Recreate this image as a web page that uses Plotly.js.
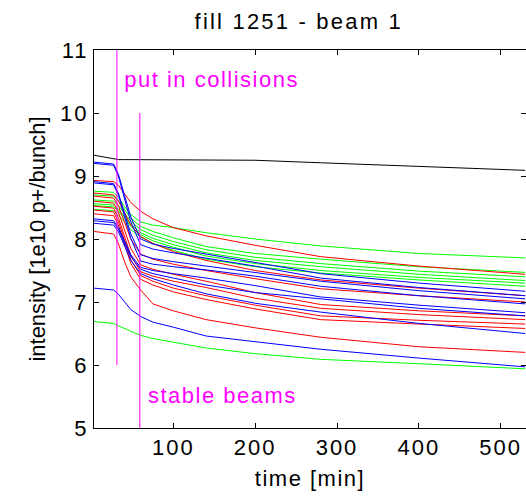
<!DOCTYPE html>
<html>
<head>
<meta charset="utf-8">
<script src="https://cdn.plot.ly/plotly-3.0.1.min.js"></script>
<style>
html,body{margin:0;padding:0;background:#fff;}
#chart .annotation-text, #chart .xtitle { letter-spacing: 1.5px !important; }
#chart .gtitle { letter-spacing: 2.2px !important; }
#chart .xtick text, #chart .ytick text { letter-spacing: 2px !important; }
</style>
</head>
<body>
<div id="chart" style="width:526px;height:499px;"></div>
<script>
// time samples [min]
const time = [3, 27, 33, 40, 48, 60, 75, 100, 140, 200, 280, 400, 530];

// bunch intensities [1e10 p+/bunch]
const black1 = [9.33, 9.27, 9.26, 9.26, 9.26, 9.26, 9.26, 9.26, 9.26, 9.25, 9.21, 9.15, 9.09];

const green1 = [8.76, 8.74, 8.66, 8.52, 8.39, 8.27, 8.22, 8.18, 8.10, 8.00, 7.89, 7.77, 7.70];
const green2 = [8.70, 8.68, 8.60, 8.47, 8.33, 8.20, 8.12, 8.02, 7.88, 7.77, 7.68, 7.56, 7.47];
const green3 = [8.62, 8.60, 8.53, 8.41, 8.28, 8.15, 8.06, 7.96, 7.83, 7.71, 7.61, 7.49, 7.40];
const green4 = [8.56, 8.54, 8.47, 8.36, 8.23, 8.10, 8.01, 7.91, 7.78, 7.66, 7.56, 7.44, 7.34];
const green5 = [8.53, 8.51, 8.44, 8.32, 8.20, 8.07, 7.97, 7.87, 7.73, 7.61, 7.50, 7.39, 7.30];
const green6 = [8.47, 8.45, 8.38, 8.27, 8.15, 8.03, 7.93, 7.82, 7.68, 7.56, 7.46, 7.35, 7.25];
const green7 = [6.69, 6.66, 6.62, 6.58, 6.53, 6.47, 6.42, 6.36, 6.27, 6.18, 6.09, 6.02, 5.94];

const red1 = [8.93, 8.91, 8.85, 8.72, 8.58, 8.44, 8.32, 8.18, 8.05, 7.90, 7.72, 7.57, 7.44];
const red2 = [8.73, 8.70, 8.60, 8.42, 8.22, 8.04, 7.93, 7.80, 7.66, 7.50, 7.35, 7.22, 7.10];
const red3 = [8.68, 8.65, 8.52, 8.28, 8.00, 7.76, 7.68, 7.60, 7.50, 7.37, 7.21, 7.10, 7.00];
const red4 = [8.60, 8.57, 8.42, 8.15, 7.85, 7.59, 7.52, 7.44, 7.33, 7.15, 6.96, 6.86, 6.78];
const red5 = [8.52, 8.49, 8.33, 8.05, 7.74, 7.48, 7.41, 7.33, 7.23, 7.06, 6.90, 6.80, 6.72];
const red6 = [8.46, 8.43, 8.27, 7.98, 7.67, 7.42, 7.33, 7.22, 7.10, 6.95, 6.78, 6.71, 6.65];
const red7 = [8.40, 8.37, 8.21, 7.92, 7.61, 7.36, 7.27, 7.16, 7.04, 6.89, 6.72, 6.65, 6.58];
const red8 = [8.12, 8.08, 7.92, 7.65, 7.40, 7.19, 6.97, 6.86, 6.72, 6.59, 6.44, 6.29, 6.20];

const blue1 = [9.22, 9.19, 9.02, 8.70, 8.35, 8.00, 7.92, 7.85, 7.76, 7.63, 7.45, 7.30, 7.17];
const blue2 = [9.20, 9.17, 8.99, 8.64, 8.27, 7.91, 7.84, 7.78, 7.70, 7.57, 7.38, 7.23, 7.10];
const blue3 = [8.91, 8.88, 8.72, 8.42, 8.08, 7.75, 7.69, 7.64, 7.57, 7.46, 7.33, 7.18, 7.05];
const blue4 = [8.89, 8.86, 8.69, 8.37, 8.01, 7.65, 7.60, 7.56, 7.51, 7.41, 7.25, 7.10, 6.97];
const blue5 = [8.32, 8.29, 8.18, 7.98, 7.75, 7.55, 7.50, 7.45, 7.38, 7.26, 7.08, 6.95, 6.83];
const blue6 = [8.29, 8.26, 8.15, 7.95, 7.72, 7.52, 7.45, 7.38, 7.27, 7.15, 7.05, 6.90, 6.78];
const blue7 = [8.25, 8.22, 8.11, 7.90, 7.66, 7.45, 7.37, 7.27, 7.13, 6.98, 6.84, 6.66, 6.50];
const blue8 = [7.22, 7.19, 7.12, 7.00, 6.88, 6.77, 6.68, 6.60, 6.46, 6.37, 6.25, 6.11, 5.97];

// event markers
const collisionsX = [31, 31];
const collisionsY = [6, 11];
const stableX = [59, 59];
const stableY = [5, 10];
const labelText = ["put in collisions", "stable beams"];
const labelX = [53, 78];
const labelY = [10.53, 5.51];

const xTicks = [100, 200, 300, 400, 500];
const yTicks = [5, 6, 7, 8, 9, 10, 11];

const groups = [
  {color: "#00ff00", series: [green1, green2, green3, green4, green5, green6, green7]},
  {color: "#ff0000", series: [red1, red2, red3, red4, red5, red6, red7, red8]},
  {color: "#0000ff", series: [blue1, blue2, blue3, blue4, blue5, blue6, blue7, blue8]},
  {color: "#000000", series: [black1]}
];

const traces = [];
groups.forEach(g => g.series.forEach(s => traces.push({
  x: time, y: s, type: "scatter", mode: "lines",
  line: {color: g.color, width: 1}, hoverinfo: "skip"
})));
traces.push({x: collisionsX, y: collisionsY, type: "scatter", mode: "lines",
  line: {color: "#ff00ff", width: 1}, hoverinfo: "skip"});
traces.push({x: stableX, y: stableY, type: "scatter", mode: "lines",
  line: {color: "#ff00ff", width: 1}, hoverinfo: "skip"});

const fontFam = "Liberation Sans, Arial, sans-serif";

const layout = {
  width: 526, height: 499,
  margin: {l: 94, r: 0, t: 50, b: 71, pad: 0},
  paper_bgcolor: "#ffffff", plot_bgcolor: "#ffffff",
  showlegend: false,
  font: {family: fontFam, size: 22, color: "#000"},
  title: {text: "fill 1251 - beam 1", x: 0.568, xanchor: "center", y: 0.958, yanchor: "middle",
          font: {family: fontFam, size: 22, color: "#000"}},
  xaxis: {
    range: [3, 531], tickvals: xTicks, ticktext: xTicks.map(String),
    ticks: "inside", ticklen: 5, tickcolor: "#000", tickwidth: 1,
    showline: true, linecolor: "#000", linewidth: 1, mirror: "ticks",
    showgrid: false, zeroline: false,
    tickfont: {family: fontFam, size: 22, color: "#000"},
    title: {text: "time [min]", font: {family: fontFam, size: 22, color: "#000"}, standoff: 11}
  },
  yaxis: {
    range: [5, 11], tickvals: yTicks, ticktext: yTicks.map(String),
    ticks: "inside", ticklen: 5, tickcolor: "#000", tickwidth: 1,
    showline: true, linecolor: "#000", linewidth: 1, mirror: "ticks",
    showgrid: false, zeroline: false,
    tickfont: {family: fontFam, size: 22, color: "#000"},
    title: {text: "intensity [1e10 p+/bunch]", font: {family: fontFam, size: 22, color: "#000"}, standoff: 12}
  },
  annotations: labelText.map((t, i) => ({
    x: labelX[i], y: labelY[i], xref: "x", yref: "y", text: t, showarrow: false,
    xanchor: "left", yanchor: "middle",
    font: {family: fontFam, size: 22, color: "#ff00ff"}
  }))
};

Plotly.newPlot("chart", traces, layout, {staticPlot: true, displayModeBar: false});
</script>
</body>
</html>
